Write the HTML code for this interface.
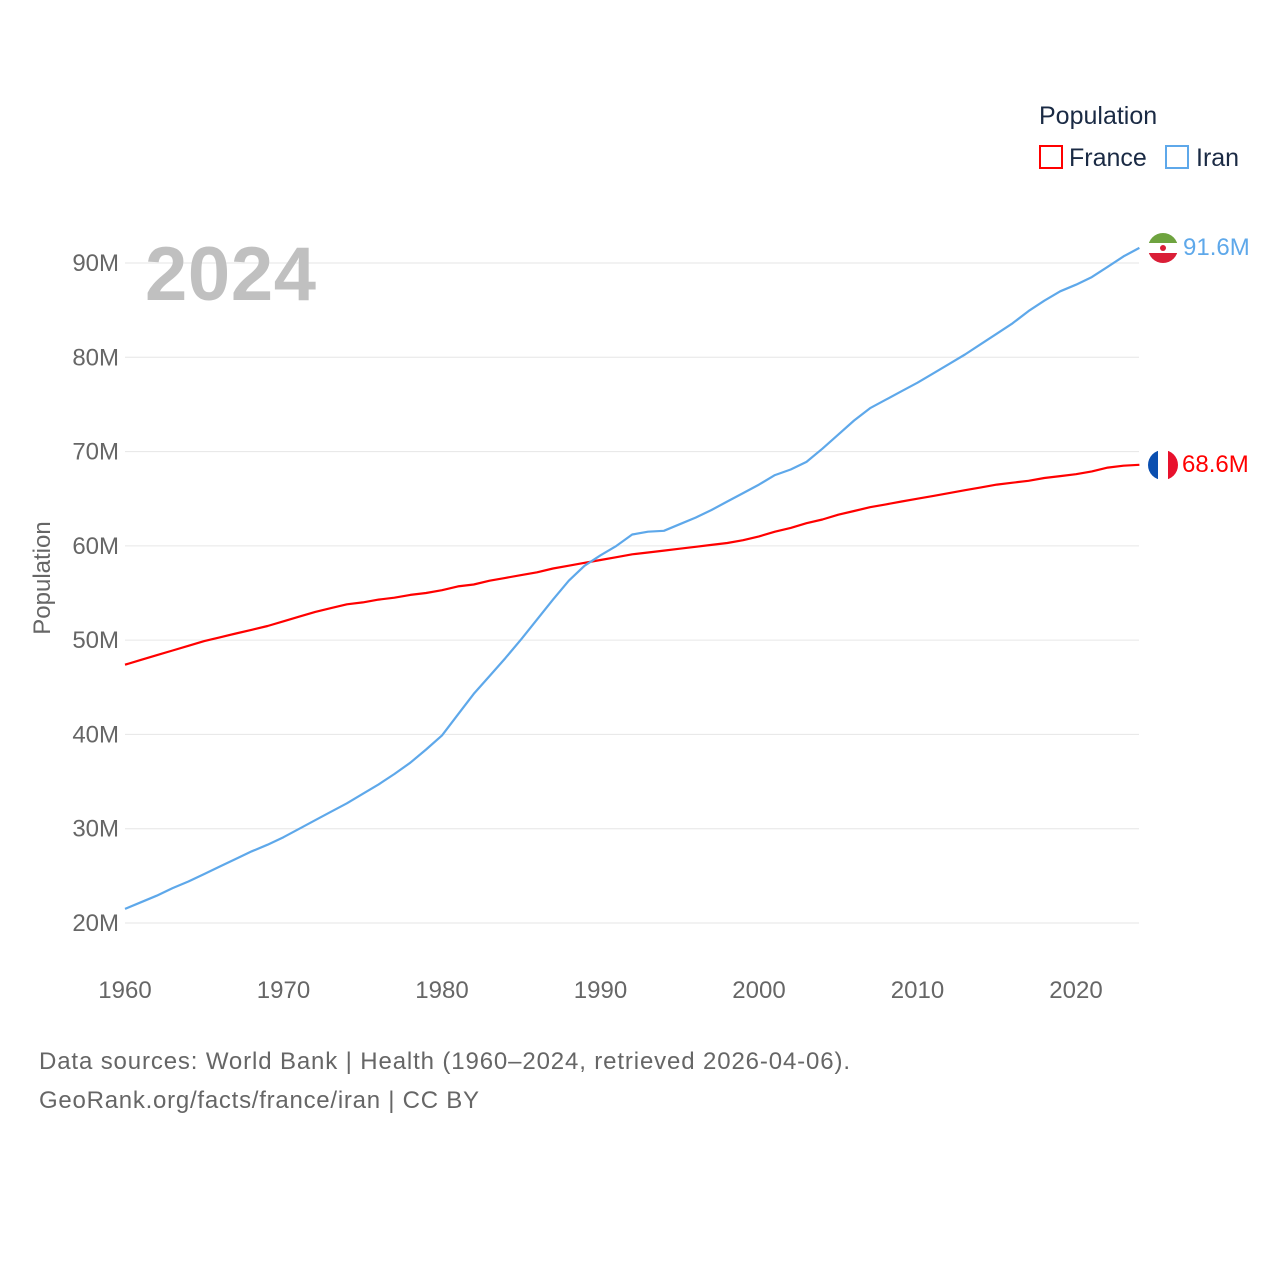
<!DOCTYPE html>
<html><head><meta charset="utf-8">
<style>
html,body{margin:0;padding:0;background:#fff;}
body{width:1280px;height:1280px;overflow:hidden;font-family:"Liberation Sans",sans-serif;}
</style></head>
<body>
<svg id="chart" width="1280" height="1280" viewBox="0 0 1280 1280" xmlns="http://www.w3.org/2000/svg">
<g id="grid"></g>
<g id="yticks"></g>
<g id="xticks"></g>
<text x="145" y="300" font-size="76" font-weight="bold" fill="#c0c0c0" textLength="171">2024</text>
<text transform="translate(50,578) rotate(-90)" text-anchor="middle" font-size="24" fill="#666">Population</text>
<g id="lines"></g>
<g>
<text x="1039" y="124" font-size="25" fill="#1a2a44">Population</text>
<g>
<rect x="1040" y="146" width="22" height="22" fill="none" stroke="#ff0000" stroke-width="2"/>
<text x="1069" y="166" font-size="25" fill="#1a2a44">France</text></g>
<g>
<rect x="1166" y="146" width="22" height="22" fill="none" stroke="#5ea8ea" stroke-width="2"/>
<text x="1196" y="166" font-size="25" fill="#1a2a44">Iran</text></g>
</g>
<g>
<clipPath id="ci"><circle cx="1163" cy="248" r="15"/></clipPath>
<g clip-path="url(#ci)">
<rect x="1148" y="233" width="30" height="10" fill="#6ea33f"/>
<rect x="1148" y="243" width="30" height="10" fill="#fff"/>
<rect x="1148" y="253" width="30" height="10" fill="#da1e37"/>
<circle cx="1163" cy="248" r="3" fill="#da1e37"/></g></g>
<g>
<clipPath id="cf"><circle cx="1163" cy="465" r="15"/></clipPath>
<g clip-path="url(#cf)">
<rect x="1148" y="450" width="10" height="30" fill="#0b4fb0"/>
<rect x="1158" y="450" width="10" height="30" fill="#fff"/>
<rect x="1168" y="450" width="10" height="30" fill="#e8112d"/></g></g>
<text x="1183" y="255" font-size="24" fill="#5ea8ea">91.6M</text>
<text x="1182" y="472" font-size="24" fill="#ff0000">68.6M</text>
<text x="39" y="1069" font-size="24" fill="#666" textLength="811">Data sources: World Bank | Health (1960–2024, retrieved 2026-04-06).</text>
<text x="39" y="1108" font-size="24" fill="#666" textLength="440">GeoRank.org/facts/france/iran | CC BY</text>
</svg>
<script>
const years = [];
for (let y = 1960; y <= 2024; y++) years.push(y);
const franceValues = [47.4,47.9,48.4,48.9,49.4,49.9,50.3,50.7,51.1,51.5,52.0,52.5,53.0,53.4,53.8,54.0,54.3,54.5,54.8,55.0,55.3,55.7,55.9,56.3,56.6,56.9,57.2,57.6,57.9,58.2,58.5,58.8,59.1,59.3,59.5,59.7,59.9,60.1,60.3,60.6,61.0,61.5,61.9,62.4,62.8,63.3,63.7,64.1,64.4,64.7,65.0,65.3,65.6,65.9,66.2,66.5,66.7,66.9,67.2,67.4,67.6,67.9,68.3,68.5,68.6];
const iranValues = [21.5,22.2,22.9,23.7,24.4,25.2,26.0,26.8,27.6,28.3,29.1,30.0,30.9,31.8,32.7,33.7,34.7,35.8,37.0,38.4,39.9,42.1,44.3,46.2,48.1,50.1,52.2,54.3,56.3,57.9,59.0,60.0,61.2,61.5,61.6,62.3,63.0,63.8,64.7,65.6,66.5,67.5,68.1,68.9,70.3,71.8,73.3,74.6,75.5,76.4,77.3,78.3,79.3,80.3,81.4,82.5,83.6,84.9,86.0,87.0,87.7,88.5,89.6,90.7,91.6];
const yTicks = [20,30,40,50,60,70,80,90];
const xTicks = [1960,1970,1980,1990,2000,2010,2020];
const NS = "http://www.w3.org/2000/svg";
const X = y => 125 + (y - 1960) * (1076 - 125) / 60;
const Y = v => 923 - (v - 20) * (923 - 263) / 70;
function mk(tag, attrs, parent){const e=document.createElementNS(NS,tag);for(const k in attrs)e.setAttribute(k,attrs[k]);parent.appendChild(e);return e;}
const grid=document.getElementById('grid'), yt=document.getElementById('yticks'), xt=document.getElementById('xticks'), lines=document.getElementById('lines');
yTicks.forEach(v=>{
  const l=mk('line',{x1:125,x2:1139,y1:Y(v),y2:Y(v),stroke:'#e6e6e6','stroke-width':1},grid);
  
  
  const t=mk('text',{x:119,y:Y(v)+8,'text-anchor':'end','font-size':24,fill:'#666'},yt);
  t.textContent=v+'M';
  
  
});
xTicks.forEach(y=>{
  const t=mk('text',{x:X(y),y:998,'text-anchor':'middle','font-size':24,fill:'#666'},xt);
  t.textContent=y;
  
  
});
function path(vals,color,name){
  const d=vals.map((v,i)=>(i?'L':'M')+X(years[i]).toFixed(1)+' '+Y(v).toFixed(1)).join(' ');
  const p=mk('path',{d:d,fill:'none',stroke:color,'stroke-width':2.2,'stroke-linejoin':'round'},lines);
  
  
}
path(franceValues,'#ff0000','france-line');
path(iranValues,'#5ea8ea','iran-line');
</script>
</body></html>
